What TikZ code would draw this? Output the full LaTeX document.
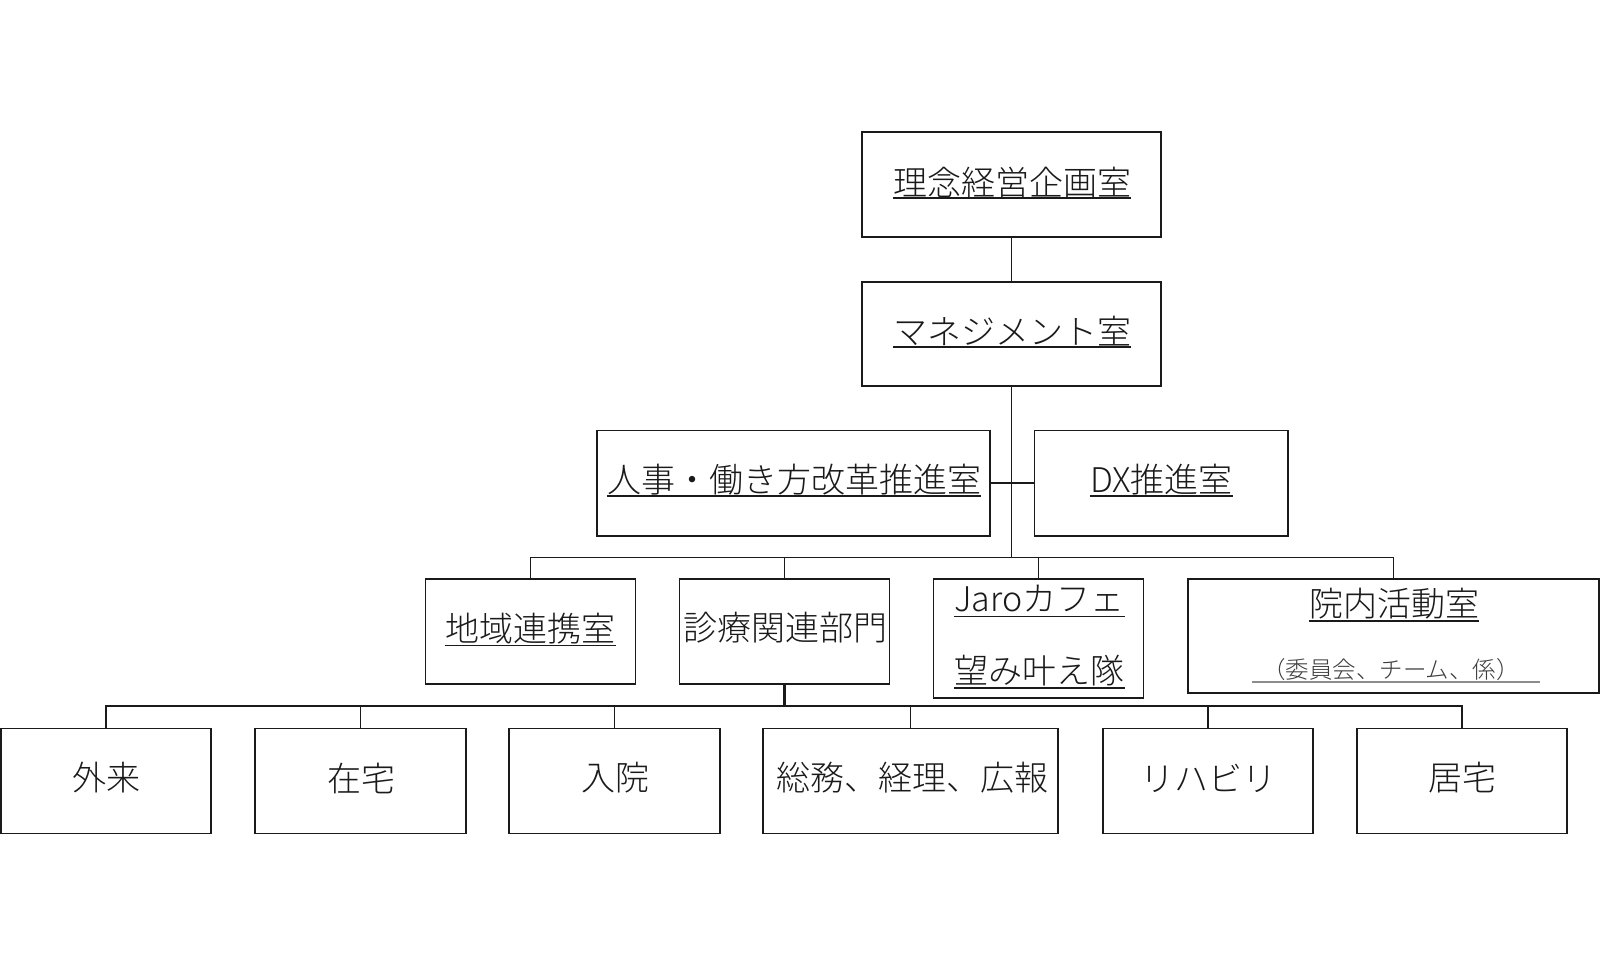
\documentclass[tikz,border=0pt]{standalone}
\usepackage{fontspec}
\setmainfont{Noto Sans CJK JP Light}
\definecolor{ink}{HTML}{1A1A1A}
\definecolor{grayline}{HTML}{8C8C8C}
\tikzset{
  box/.style={draw=ink, line width=1.8pt, inner sep=0pt, fill=white},
  conn/.style={draw=ink, line width=1.7pt},
  lbl/.style={inner sep=0pt, text=ink, font=\fontsize{34}{40}\selectfont},
  small/.style={inner sep=0pt, text=ink!85, font=\fontsize{23.5}{28}\selectfont},
  uline/.style={draw=ink, line width=1.6pt},
  gline/.style={draw=grayline, line width=1.4pt}
}
\begin{document}
\begin{tikzpicture}[x=1pt,y=-1pt]
\path[use as bounding box, fill=white] (0,0) rectangle (1600,966);
% boxes
\node[box, minimum width=299pt, minimum height=105pt] (b1) at (1011.5,184.5) {};
\node[box, minimum width=299pt, minimum height=104pt] (b2) at (1011.5,333.8) {};
\node[box, minimum width=393pt, minimum height=105.5pt] (b3) at (793.5,483.2) {};
\node[box, minimum width=253.5pt, minimum height=105.5pt] (b4) at (1161.2,483.2) {};
\node[box, minimum width=210pt, minimum height=105pt] (b5) at (530.5,631.6) {};
\node[box, minimum width=210pt, minimum height=105pt] (b6) at (784.5,631.6) {};
\node[box, minimum width=210pt, minimum height=119pt] (b7) at (1038.5,638.5) {};
\node[box, minimum width=410.5pt, minimum height=114pt] (b8) at (1393.4,636) {};
\node[box, minimum width=210pt, minimum height=105pt] (c1) at (106,781) {};
\node[box, minimum width=211pt, minimum height=105pt] (c2) at (360.5,781) {};
\node[box, minimum width=211pt, minimum height=105pt] (c3) at (614.5,781) {};
\node[box, minimum width=295pt, minimum height=105pt] (c4) at (910.5,781) {};
\node[box, minimum width=210pt, minimum height=105pt] (c5) at (1208,781) {};
\node[box, minimum width=210pt, minimum height=105pt] (c6) at (1462,781) {};
% junctions
\coordinate (j1) at (1011.5,557.5);
\coordinate (j2) at (784.5,706);
% connectors
\draw[conn] (b1.south) -- (b2.north);
\draw[conn] (b2.south) -- (j1);
\draw[conn] (b3.east) -- (b4.west);
\draw[conn] (b5.north) |- (j1) -| (b8.north);
\draw[conn] (b6.north) -- (b6.north |- j1);
\draw[conn] (b7.north) -- (b7.north |- j1);
\draw[conn, line width=2.6pt] (b6.south) -- (j2);
\draw[conn, line width=2.2pt] (c1.north) |- (j2) -| (c6.north);
\draw[conn] (c2.north) -- (c2.north |- j2);
\draw[conn] (c3.north) -- (c3.north |- j2);
\draw[conn] (c4.north) -- (c4.north |- j2);
\draw[conn] (c5.north) -- (c5.north |- j2);
% texts
\node[lbl] (t1) at (1012,182.5) {理念経営企画室};
\node[lbl] (t2) at (1012,331.5) {マネジメント室};
\node[lbl] (t3) at (794,479.5) {人事・働き方改革推進室};
\node[lbl] (t4) at (1161.5,479.5) {DX推進室};
\node[lbl] (t5) at (530.5,628.5) {地域連携室};
\node[lbl] (t6) at (785,628) {診療関連部門};
\node[lbl] (t7) at (1039.5,598.5) {Jaroカフェ};
\node[lbl] (t8) at (1039.5,671) {望み叶え隊};
\node[lbl] (t9) at (1394,604) {院内活動室};
\node[small] (t10) at (1391,670) {（委員会、チーム、係）};
\node[lbl] (u1) at (106,778) {外来};
\node[lbl] (u2) at (361,778) {在宅};
\node[lbl] (u3) at (615,778) {入院};
\node[lbl] (u4) at (912.5,778) {総務、経理、広報};
\node[lbl] (u5) at (1208,778) {リハビリ};
\node[lbl] (u6) at (1462,778) {居宅};
% underlines
\foreach \t/\d in {t1/15.5,t2/15.5,t3/16.5,t4/16.5,t5/17,t7/18,t8/17,t9/17}{
  \draw[uline] ([yshift=-\d pt]\t.west) -- ([yshift=-\d pt]\t.east);
}
\draw[gline] ([xshift=-10pt,yshift=-12pt]t10.west) -- ([xshift=20pt,yshift=-12pt]t10.east);
\end{tikzpicture}
\end{document}
